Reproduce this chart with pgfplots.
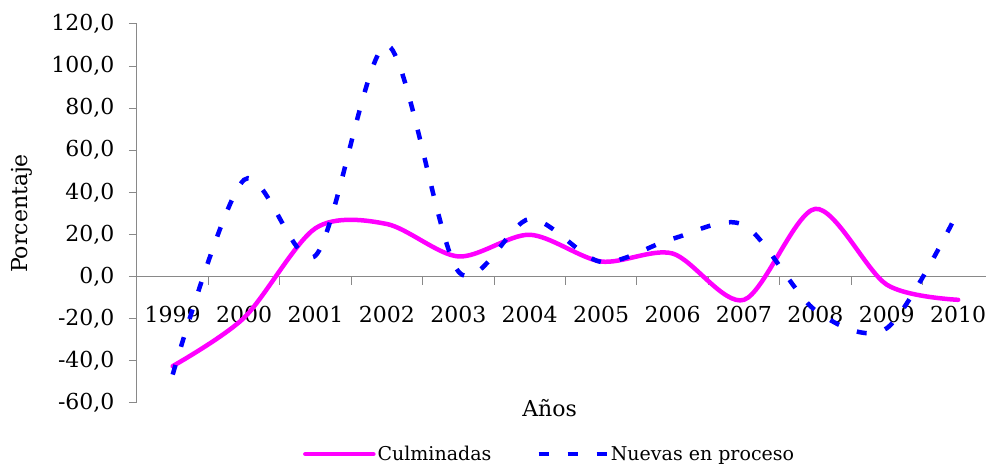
\documentclass[border=0pt]{standalone}
\usepackage{pgfplots}
\pgfplotsset{compat=1.18}
\usepackage{pgfplotstable}
\usetikzlibrary{calc}
\usepackage{fontspec}
\setmainfont{DejaVu Serif}

\definecolor{culm}{RGB}{255,0,255}
\definecolor{nuev}{RGB}{0,0,255}
\definecolor{axgray}{RGB}{137,137,137}

% 1999 = 0, ..., 2010 = 11
\pgfplotstableread{
i  culm   nuev
0  -42.5  -46.5
1  -19.5   46.0
2   23.0   10.0
3   25.0  110.0
4    9.6    2.5
5   19.9   27.4
6    7.2    7.0
7   11.0   18.0
8  -11.0   24.5
9   32.2  -16.0
10  -3.8  -24.5
11 -11.0   31.0
}\datos

\begin{document}
\begin{tikzpicture}[font=\fontsize{22pt}{26pt}\selectfont]
\begin{axis}[
    name=ax,
    scale only axis,
    width=849pt, height=379pt,
    xmin=-0.5, xmax=11.39,
    ymin=-60, ymax=120,
    axis y line=left,
    axis x line=middle,
    axis line style={-, draw=axgray, line width=1pt},
    hide obscured x ticks=false,
    hide obscured y ticks=false,
    ytick={-60,-40,...,120},
    xtick={0,...,11},
    xticklabels={1999,2000,2001,2002,2003,2004,2005,2006,2007,2008,2009,2010},
    minor xtick={-0.5,0.5,...,10.5},
    major x tick style={draw=none},
    minor x tick style={draw=axgray, line width=1pt},
    y tick style={draw=axgray, line width=1pt},
    tick align=outside,
    major tick length=8pt,
    minor tick length=8pt,
    tick label style={font=\fontsize{22pt}{26pt}\selectfont},
    yticklabel style={xshift=-11pt,
        /pgf/number format/.cd, fixed, fixed zerofill, precision=1,
        use comma, assume math mode=true},
    xticklabel style={anchor=north, yshift=-18pt},
    ylabel={Porcentaje},
    ylabel style={at={(axis description cs:-0.1355,0.5)}, anchor=center,
        font=\fontsize{22pt}{26pt}\selectfont},
    xlabel={Años},
    xlabel style={at={(axis description cs:0.486,-0.013)}, anchor=center,
        font=\fontsize{22pt}{26pt}\selectfont},
    legend style={at={(axis description cs:0.486,-0.135)}, anchor=center,
        draw=none, fill=none, legend columns=2,
        font=\fontsize{19pt}{23pt}\selectfont,
        /tikz/every even column/.append style={column sep=43pt}},
    legend image code/.code={\draw[#1] (0pt,0pt) -- (68pt,0pt);},
]
\addplot[culm, line width=4.5pt, smooth, line cap=round] table[x=i, y=culm] {\datos};
\addplot[nuev, line width=4.5pt, smooth, dash pattern=on 10pt off 19pt] table[x=i, y=nuev] {\datos};
\legend{Culminadas, Nuevas en proceso}
\end{axis}
\pgfresetboundingbox
\path ($(ax.south west)+(-137pt,-64pt)$) rectangle ($(ax.north east)+(0pt,24pt)$);
\end{tikzpicture}
\end{document}
